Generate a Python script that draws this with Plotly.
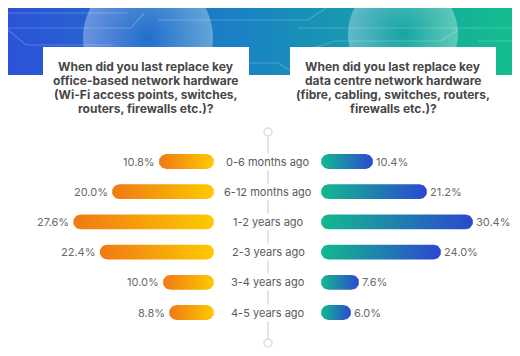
import numpy as np
import plotly.graph_objects as go

# ---- data ----
categories = ["0-6 months ago", "6-12 months ago", "1-2 years ago",
              "2-3 years ago", "3-4 years ago", "4-5 years ago"]
office_pct = [10.8, 20.0, 27.6, 22.4, 10.0, 8.8]
datacentre_pct = [10.4, 21.2, 30.4, 24.0, 7.6, 6.0]
title_left = ["When did you last replace key", "office-based network hardware",
              "(Wi-Fi access points, switches,", "routers, firewalls etc.)?"]
title_right = ["When did you last replace key", "data centre network hardware",
               "(fibre, cabling, switches, routers,", "firewalls etc.)?"]

W, H = 520, 356
FONT = "Inter"
ROW0, ROWSTEP = 153.5, 30.2        # px position of first row and spacing
S_LEFT, S_RIGHT = 5.1, 5.0         # px per percent
LEFT_END, RIGHT_START = 206, 313   # px of bar bases
HALF = 7.4                         # half bar thickness, px

fig = go.Figure()

# ---- header background (decoration) ----
fig.add_trace(go.Scatter(
    x=[0, W, W, 0, 0], y=[0, 0, 67, 67, 0], xaxis="x3", yaxis="y3",
    mode="lines", line=dict(width=0), fill="toself",
    fillgradient=dict(type="horizontal",
                      colorscale=[[0, "#2c52d8"], [0.45, "#1a82c4"], [1, "#13c18b"]]),
    hoverinfo="skip", showlegend=False))
# glows
fig.add_trace(go.Scatter(
    x=[140, 395], y=[30, 26], xaxis="x3", yaxis="y3", mode="markers",
    marker=dict(size=[130, 110], color="rgba(255,255,255,0.45)",
                gradient=dict(type="radial", color="rgba(255,255,255,0)"),
                line=dict(width=0)),
    hoverinfo="skip", showlegend=False))
# faint circuit lines
circuit = [
    ([0, 123, 136], [20, 20, 5]),
    ([0, 18, 105], [22, 37, 37]),
    ([0, 30, 120], [5, 5, 5]),
    ([150, 300, 318], [12, 12, 0]),
    ([290, 520], [20, 20]),
    ([305, 327, 433, 450], [40, 33, 33, 22]),
    ([470, 520], [33, 33]),
    ([240, 270, 290], [55, 55, 67]),
]
for cx, cy in circuit:
    fig.add_trace(go.Scatter(
        x=cx, y=cy, xaxis="x3", yaxis="y3", mode="lines",
        line=dict(color="rgba(255,255,255,0.22)", width=1.2),
        hoverinfo="skip", showlegend=False))


def pill(v, yc, s):
    rx = HALF / s
    ry = HALF / ROWSTEP
    rx = min(rx, v / 2)
    t1 = np.linspace(-np.pi / 2, np.pi / 2, 20)
    t2 = np.linspace(np.pi / 2, 3 * np.pi / 2, 20)
    xs = np.concatenate([v - rx + rx * np.cos(t1), rx + rx * np.cos(t2)])
    ys = np.concatenate([yc + ry * np.sin(t1), yc + ry * np.sin(t2)])
    return np.append(xs, xs[0]), np.append(ys, ys[0])


for i, (a, b) in enumerate(zip(office_pct, datacentre_pct)):
    px_, py_ = pill(a, i, S_LEFT)
    fig.add_trace(go.Scatter(
        x=px_, y=py_, xaxis="x", yaxis="y", mode="lines", line=dict(width=0),
        fill="toself",
        fillgradient=dict(type="horizontal",
                          colorscale=[[0, "#f07914"], [1, "#fdca00"]]),
        hoverinfo="skip", showlegend=False))
    qx, qy = pill(b, i, S_RIGHT)
    fig.add_trace(go.Scatter(
        x=qx, y=qy, xaxis="x2", yaxis="y", mode="lines", line=dict(width=0),
        fill="toself",
        fillgradient=dict(type="horizontal",
                          colorscale=[[0, "#13b98e"], [1, "#2b48d0"]]),
        hoverinfo="skip", showlegend=False))

ann = []
for i, (c, a, b) in enumerate(zip(categories, office_pct, datacentre_pct)):
    ann.append(dict(x=0.5, xref="paper", y=i, yref="y", text=c, showarrow=False,
                    font=dict(family=FONT, size=11, color="#5a5a5a"),
                    bgcolor="white", borderpad=1))
    ann.append(dict(x=a, xref="x", y=i, yref="y", text=f"{a:.1f}%", showarrow=False,
                    xanchor="right", xshift=-2,
                    font=dict(family=FONT, size=11, color="#6a6a6a")))
    ann.append(dict(x=b, xref="x2", y=i, yref="y", text=f"{b:.1f}%", showarrow=False,
                    xanchor="left", xshift=1,
                    font=dict(family=FONT, size=11, color="#6a6a6a")))

for k, (l, r) in enumerate(zip(title_left, title_right)):
    yy = 58 + 14 * k
    ann.append(dict(x=138, xref="x3", y=yy, yref="y3", text=f"<b>{l}</b>",
                    showarrow=False, font=dict(family=FONT, size=12, color="#474747")))
    ann.append(dict(x=385, xref="x3", y=yy, yref="y3", text=f"<b>{r}</b>",
                    showarrow=False, font=dict(family=FONT, size=12, color="#474747")))

shapes = [
    dict(type="rect", xref="x3", yref="y3", x0=35, x1=241, y0=39, y1=115,
         fillcolor="white", line=dict(width=0), layer="above"),
    dict(type="rect", xref="x3", yref="y3", x0=282, x1=488, y0=39, y1=115,
         fillcolor="white", line=dict(width=0), layer="above"),
    dict(type="line", xref="x3", yref="y3", x0=260, x1=260, y0=128, y1=331,
         line=dict(color="#e4e4e4", width=2), layer="below"),
    dict(type="circle", xref="x3", yref="y3", x0=256, x1=264, y0=120, y1=128,
         fillcolor="white", line=dict(color="#dcdcdc", width=1.5)),
    dict(type="circle", xref="x3", yref="y3", x0=256, x1=264, y0=331, y1=339,
         fillcolor="white", line=dict(color="#dcdcdc", width=1.5)),
]

ax_off = dict(showgrid=False, zeroline=False, showticklabels=False, ticks="",
              showline=False, fixedrange=True)
ytop = -ROW0 / ROWSTEP
ybot = (H - ROW0) / ROWSTEP
fig.update_layout(
    width=W, height=H, margin=dict(l=0, r=0, t=0, b=0),
    paper_bgcolor="white", plot_bgcolor="rgba(0,0,0,0)",
    showlegend=False,
    xaxis=dict(domain=[0, LEFT_END / W], range=[LEFT_END / S_LEFT, 0], **ax_off),
    xaxis2=dict(domain=[RIGHT_START / W, 1], range=[0, (W - RIGHT_START) / S_RIGHT],
                anchor="y", **ax_off),
    yaxis=dict(domain=[0, 1], range=[ybot, ytop], **ax_off),
    xaxis3=dict(domain=[0, 1], range=[0, W], anchor="y3", **ax_off),
    yaxis3=dict(domain=[0, 1], range=[H, 0], anchor="x3", **ax_off),
    annotations=ann, shapes=shapes,
)

fig.write_html("out.html")
